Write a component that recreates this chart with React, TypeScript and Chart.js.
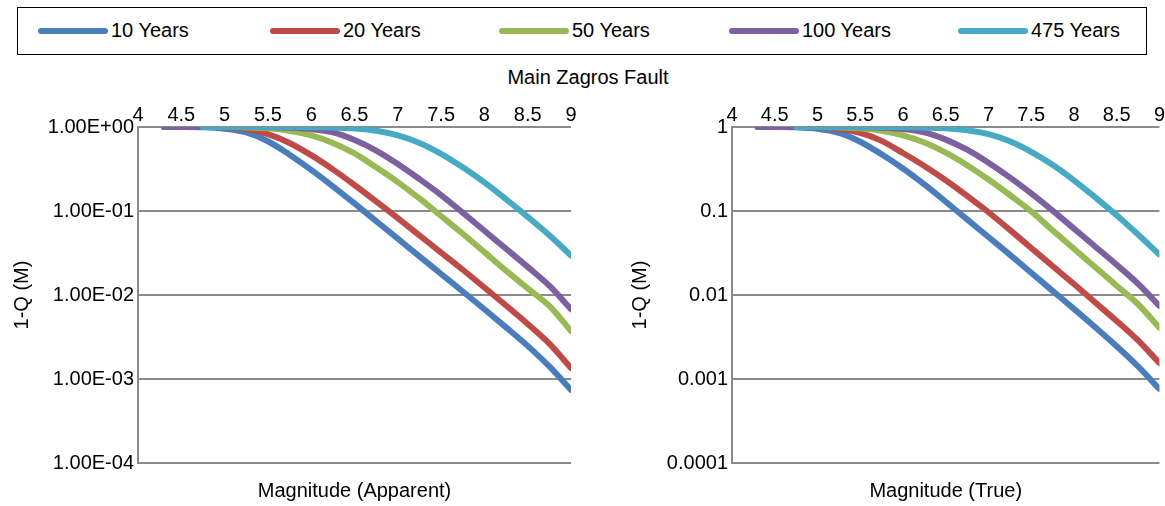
import React, { useEffect, useRef } from "react";
import { Chart, registerables } from "chart.js";

Chart.register(...registerables);

// ---------- data ----------
const magnitudes = [4.3, 4.5, 4.75, 5, 5.25, 5.5, 5.75, 6, 6.25, 6.5, 6.75, 7, 7.25, 7.5, 7.75, 8, 8.25, 8.5, 8.75, 9];

const seriesNames = ["10 Years", "20 Years", "50 Years", "100 Years", "475 Years"];
const seriesColors = ["#4A7EBB", "#BE4B48", "#98B954", "#7D60A0", "#46AAC5"];

const xTickValues = [4, 4.5, 5, 5.5, 6, 6.5, 7, 7.5, 8, 8.5, 9];
const xTickLabels = ["4", "4.5", "5", "5.5", "6", "6.5", "7", "7.5", "8", "8.5", "9"];
const yTickValues = [0.0001, 0.001, 0.01, 0.1, 1];
const apparentYLabels = ["1.00E-04", "1.00E-03", "1.00E-02", "1.00E-01", "1.00E+00"];
const trueYLabels = ["0.0001", "0.001", "0.01", "0.1", "1"];

const chartTitle = "Main Zagros Fault";
const yTitle = "1-Q (M)";
const apparentXTitle = "Magnitude (Apparent)";
const trueXTitle = "Magnitude (True)";

// Magnitude (Apparent)
const apparent10 = [1, 0.998, 0.991, 0.955, 0.861, 0.676, 0.468, 0.309, 0.197, 0.123, 0.0759, 0.0468, 0.0288, 0.0178, 0.011, 0.00676, 0.00412, 0.00248, 0.00141, 0.000741];
const apparent20 = [1, 1, 0.998, 0.989, 0.944, 0.822, 0.646, 0.462, 0.313, 0.204, 0.13, 0.0822, 0.0513, 0.032, 0.02, 0.0123, 0.0075, 0.00452, 0.00263, 0.00135];
const apparent50 = [1, 1, 1, 0.998, 0.991, 0.966, 0.902, 0.794, 0.646, 0.484, 0.331, 0.221, 0.141, 0.0871, 0.0537, 0.0324, 0.0195, 0.012, 0.00741, 0.00372];
const apparent100 = [1, 1, 1, 1, 1, 0.995, 0.982, 0.944, 0.861, 0.7, 0.525, 0.363, 0.24, 0.155, 0.0955, 0.0582, 0.0355, 0.0216, 0.0129, 0.00676];
const apparent475 = [null, null, 1, 1, 1, 1, 1, 0.995, 0.986, 0.959, 0.902, 0.794, 0.646, 0.479, 0.331, 0.219, 0.138, 0.0851, 0.0513, 0.0295];

// Magnitude (True)
const true10 = [1, 0.998, 0.991, 0.955, 0.851, 0.668, 0.473, 0.32, 0.207, 0.129, 0.0794, 0.049, 0.0302, 0.0184, 0.0112, 0.00684, 0.00412, 0.00245, 0.00141, 0.000759];
const true20 = [1, 1, 1, 0.991, 0.955, 0.851, 0.684, 0.49, 0.343, 0.232, 0.151, 0.0966, 0.0596, 0.0363, 0.0221, 0.0135, 0.00813, 0.0049, 0.00288, 0.00155];
const true50 = [1, 1, 1, 0.998, 0.991, 0.966, 0.902, 0.794, 0.653, 0.495, 0.351, 0.237, 0.155, 0.0989, 0.0589, 0.0355, 0.0214, 0.0129, 0.00776, 0.00407];
const true100 = [1, 1, 1, 1, 1, 0.995, 0.982, 0.944, 0.861, 0.708, 0.537, 0.376, 0.251, 0.162, 0.101, 0.0617, 0.0376, 0.0229, 0.0136, 0.00741];
const true475 = [null, null, 1, 1, 1, 1, 1, 0.995, 0.989, 0.966, 0.916, 0.822, 0.676, 0.507, 0.355, 0.232, 0.145, 0.0891, 0.0525, 0.0302];

const apparentSeries = [apparent10, apparent20, apparent50, apparent100, apparent475];
const trueSeries = [true10, true20, true50, true100, true475];

// ---------- styling ----------
const FONT = "'Liberation Sans', Arial, sans-serif";
const FONT_SIZE = 20;
const TEXT_COLOR = "#000000";
const GRID_COLOR = "#8a8a8a";

type PanelProps = {
  series: (number | null)[][];
  yLabels: string[];
  xTitle: string;
  left: number;
  yAxisWidth: number;
  yTitlePad: number;
  rightPad: number;
};

function ChartPanel({ series, yLabels, xTitle, left, yAxisWidth, yTitlePad, rightPad }: PanelProps) {
  const ref = useRef<HTMLCanvasElement | null>(null);

  useEffect(() => {
    if (!ref.current) return;
    const font = { family: FONT, size: FONT_SIZE };
    const datasets = series.map((vals, i) => ({
      label: seriesNames[i],
      data: magnitudes.map((m, j) => ({ x: m, y: vals[j] })),
      borderColor: seriesColors[i],
      backgroundColor: seriesColors[i],
      borderWidth: 6,
      pointRadius: 0,
      fill: false,
      cubicInterpolationMode: "monotone" as const,
      borderCapStyle: "round" as const,
      borderJoinStyle: "round" as const,
      clip: 0,
      order: series.length - 1 - i,
    }));

    const chart = new Chart(ref.current, {
      type: "line",
      data: { datasets },
      options: {
        animation: false,
        responsive: false,
        maintainAspectRatio: false,
        layout: { padding: { left: 0, top: 0, bottom: 0, right: rightPad } },
        plugins: { legend: { display: false }, tooltip: { enabled: false }, title: { display: false } },
        scales: {
          x: {
            type: "linear",
            position: "top",
            min: 4,
            max: 9,
            afterBuildTicks: (s: any) => {
              s.ticks = xTickValues.map((v) => ({ value: v }));
            },
            ticks: {
              autoSkip: false,
              maxRotation: 0,
              padding: 0,
              font,
              color: TEXT_COLOR,
              callback: (_v: any, idx: number) => xTickLabels[idx],
            },
            grid: { display: false, drawTicks: false },
            border: { display: false },
            afterFit: (s: any) => {
              s.height = 39;
            },
          },
          x2: {
            type: "linear",
            position: "bottom",
            min: 4,
            max: 9,
            ticks: { display: false },
            grid: { display: false, drawTicks: false },
            border: { display: false },
            title: { display: true, text: xTitle, font, color: TEXT_COLOR, padding: { top: 0, bottom: 3 } },
            afterFit: (s: any) => {
              s.height = 43;
            },
          },
          y: {
            type: "logarithmic",
            position: "left",
            min: 0.0001,
            max: 1,
            afterBuildTicks: (s: any) => {
              s.ticks = yTickValues.map((v) => ({ value: v }));
            },
            ticks: {
              autoSkip: false,
              padding: 4,
              font,
              color: TEXT_COLOR,
              callback: (_v: any, idx: number) => yLabels[idx],
            },
            grid: { color: GRID_COLOR, lineWidth: 2, drawTicks: false },
            border: { display: true, color: GRID_COLOR, width: 2 },
            title: { display: true, text: yTitle, font, color: TEXT_COLOR, padding: { top: yTitlePad, bottom: 0 } },
            afterFit: (s: any) => {
              s.width = yAxisWidth;
            },
          },
        },
      } as any,
    });
    return () => chart.destroy();
  }, []);

  return (
    <canvas
      ref={ref}
      width={580}
      height={418}
      style={{ position: "absolute", left, top: 88, width: 580, height: 418 }}
    />
  );
}

const legendLineStarts = [38, 270, 499, 729, 958];

export default function App() {
  useEffect(() => {
    document.body.style.margin = "0";
    document.body.style.overflow = "hidden";
  }, []);

  return (
    <div
      style={{
        position: "absolute",
        left: 0,
        top: 0,
        width: 1165,
        height: 506,
        background: "#ffffff",
        overflow: "hidden",
        fontFamily: FONT,
        color: TEXT_COLOR,
      }}
    >
      <div
        style={{
          position: "absolute",
          left: 17,
          top: 7,
          width: 1128,
          height: 46,
          border: "1px solid #000",
        }}
      />
      {seriesNames.map((name, i) => (
        <React.Fragment key={name}>
          <div
            style={{
              position: "absolute",
              left: legendLineStarts[i],
              top: 28,
              width: 70,
              height: 6,
              borderRadius: 3,
              background: seriesColors[i],
            }}
          />
          <div
            style={{
              position: "absolute",
              left: legendLineStarts[i] + 73,
              top: 18,
              fontSize: FONT_SIZE,
              lineHeight: "24px",
              whiteSpace: "nowrap",
            }}
          >
            {name}
          </div>
        </React.Fragment>
      ))}
      <div
        style={{
          position: "absolute",
          left: 0,
          width: 1176,
          top: 65,
          textAlign: "center",
          fontSize: FONT_SIZE,
          lineHeight: "24px",
        }}
      >
        {chartTitle}
      </div>
      <ChartPanel
        series={apparentSeries}
        yLabels={apparentYLabels}
        xTitle={apparentXTitle}
        left={0}
        yAxisWidth={138}
        yTitlePad={10}
        rightPad={9}
      />
      <ChartPanel
        series={trueSeries}
        yLabels={trueYLabels}
        xTitle={trueXTitle}
        left={585}
        yAxisWidth={147}
        yTitlePad={43}
        rightPad={4}
      />
    </div>
  );
}
